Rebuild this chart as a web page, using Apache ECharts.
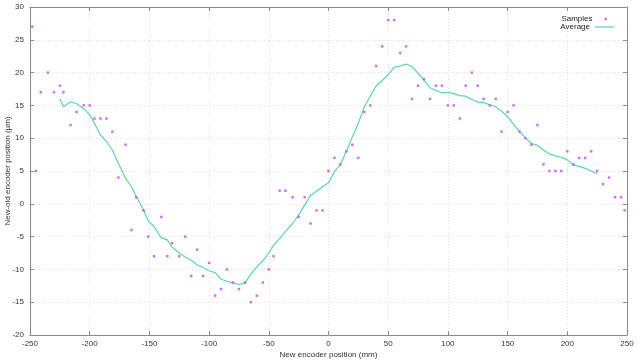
<!DOCTYPE html>
<html><head><meta charset="utf-8">
<script src="https://cdn.jsdelivr.net/npm/echarts@6/dist/echarts.min.js"></script>
<style>html,body{margin:0;padding:0;background:#fff}#c{width:640px;height:360px}</style>
</head><body><div id="c"></div>
<script>
var sampleX = [-248,-245,-241,-235,-230,-225,-222,-216,-211,-205,-200,-196,-191,-186,-181,-176,-170,-165,-161,-155,-151,-146,-140,-135,-131,-125,-120,-115,-110,-105,-100,-95,-90,-85,-80,-75,-70,-65,-60,-55,-50,-46,-41,-36,-30,-25,-20,-15,-10,-5,0,5,10,15,20,25,30,35,40,45,50,55,60,65,70,75,80,85,90,95,100,105,110,115,120,125,130,135,140,145,150,155,160,165,170,175,180,185,190,195,200,205,210,215,220,225,230,235,240,245,248];
var sampleY = [27,5,17,20,17,18,17,12,14,15,15,13,13,13,11,4,9,-4,1,-1,-5,-8,-2,-8,-6,-8,-5,-11,-7,-11,-9,-14,-13,-10,-12,-13,-12,-15,-14,-12,-10,-8,2,2,1,-2,1,-3,-1,-1,5,7,6,8,9,7,14,15,21,24,28,28,23,24,16,18,19,16,18,18,15,15,13,18,20,18,16,15,16,11,14,15,11,10,9,12,6,5,5,5,8,6,7,7,8,5,3,4,1,1,-1];
var avgX = [-225,-222,-216,-211,-205,-200,-196,-191,-186,-181,-176,-170,-165,-161,-155,-151,-146,-140,-135,-131,-125,-120,-115,-110,-105,-100,-95,-90,-85,-80,-75,-70,-65,-60,-55,-50,-46,-41,-36,-30,-25,-20,-15,-10,-5,0,5,10,15,20,25,30,35,40,45,50,55,60,65,70,75,80,85,90,95,100,105,110,115,120,125,130,135,140,145,150,155,160,165,170,175,180,185,190,195,200,205,210,215,220,225];
var avgY = [16.0,14.8,15.55,15.25,14.5,13.6,12.3,10.5,9.5,8.2,6.2,3.9,2.6,1.1,-0.9,-2.6,-3.5,-5.2,-5.5,-6.6,-7.5,-8.1,-8.6,-9.3,-9.7,-10.2,-10.5,-11.5,-11.8,-12.1,-12.3,-12.1,-10.7,-9.6,-8.7,-7.5,-6.3,-5.3,-4.2,-3.0,-1.7,-0.2,1.3,1.9,2.6,3.2,4.9,6.0,8.0,10.2,12.3,14.8,16.4,18.0,18.8,19.7,20.8,21.0,21.3,20.9,19.9,18.8,17.7,17.3,16.9,17.0,16.8,16.5,16.4,15.9,15.5,15.45,15.1,14.8,14.1,13.3,12.1,11.0,10.05,9.2,8.9,8.2,7.6,7.3,7.1,6.7,5.9,5.7,5.4,5.0,4.6];
var xName = 'New encoder position (mm)';
var yName = 'New-old encoder position (µm)';

var samples = sampleX.map(function(x,i){return [x, sampleY[i]];});
var avg = avgX.map(function(x,i){return [x, avgY[i]];});

var font = 'Liberation Sans, Arial, sans-serif';
var axisColor = '#8a8a8a';
var gridLine = {show:true, lineStyle:{color:'#e2e2e2', type:[1,2], width:1}};
function ax(extra){
  var base = {
    axisLine:{show:true, onZero:false, lineStyle:{color:axisColor, width:1}},
    axisTick:{show:true, inside:true, length:4, lineStyle:{color:axisColor}},
    axisLabel:{color:'#333', fontSize:8, fontFamily:font},
    splitLine:{show:false}
  };
  for (var k in extra) base[k] = extra[k];
  return base;
}
var chart = echarts.init(document.getElementById('c'), null, {renderer:'canvas'});
chart.setOption({
  animation:false,
  backgroundColor:'#fff',
  grid:{left:30, right:13, top:7, bottom:25, containLabel:false, outerBoundsMode:'none'},
  xAxis:[
    ax({type:'value', min:-250, max:250, interval:50, position:'bottom',
        name:xName, nameLocation:'middle', nameGap:16, nameMoveOverlap:false, nameTextStyle:{color:'#333', fontSize:8, fontFamily:font},
        axisLabel:{color:'#333', fontSize:8, fontFamily:font, margin:5}, splitLine:gridLine}),
    ax({type:'value', min:-250, max:250, interval:50, position:'top', axisLabel:{show:false}})
  ],
  yAxis:[
    ax({type:'value', min:-20, max:30, interval:5, position:'left',
        name:yName, nameLocation:'middle', nameGap:18, nameRotate:90, nameMoveOverlap:false, nameTextStyle:{color:'#333', fontSize:8, fontFamily:font},
        axisLabel:{color:'#333', fontSize:8, fontFamily:font, margin:6}, splitLine:gridLine}),
    ax({type:'value', min:-20, max:30, interval:5, position:'right', axisLabel:{show:false}})
  ],
  legend:[
    {data:['Samples'], orient:'vertical', align:'right', right:28, top:10, icon:'rect', itemWidth:2.5, itemHeight:2.5,
     textStyle:{color:'#222', fontSize:8, fontFamily:font, padding:[0,7,0,0]}, selectedMode:false},
    {data:[{name:'Average', icon:'rect'}], orient:'vertical', align:'right', right:21, top:18, itemWidth:19, itemHeight:1.2,
     textStyle:{color:'#222', fontSize:8, fontFamily:font}, selectedMode:false}
  ],
  series:[
    {name:'Samples', type:'scatter', data:samples, symbol:'rect', symbolSize:2.5,
     itemStyle:{color:'#c24ff2'}, xAxisIndex:0, yAxisIndex:0, z:3},
    {name:'Average', type:'line', data:avg, showSymbol:false, symbol:'none', smooth:false,
     lineStyle:{color:'#5fd3aa', width:1.2}, itemStyle:{color:'#5fd3aa'}, xAxisIndex:0, yAxisIndex:0, z:2}
  ]
});
</script></body></html>
